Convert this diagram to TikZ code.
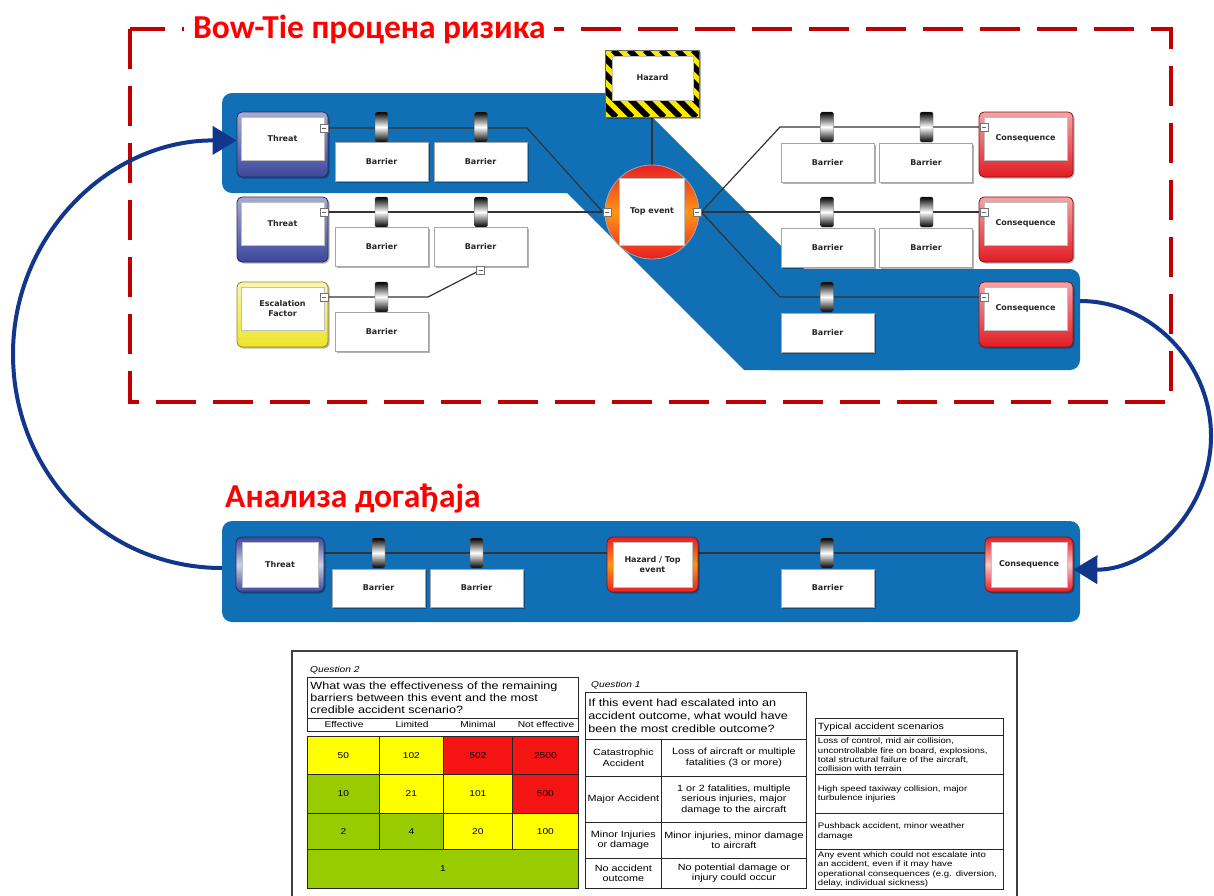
\documentclass[tikz,border=0pt]{standalone}
\usepackage{fontspec}
\setmainfont{Liberation Sans}
\newfontfamily\nodefont{DejaVu Sans}
\newfontfamily\ttlfont{Carlito}
\newfontfamily\tabfont{Liberation Sans}[FakeStretch=1.2]
\usetikzlibrary{arrows.meta,shadows}
\pgfdeclarelayer{bg}
\pgfdeclarelayer{lines}
\pgfsetlayers{bg,lines,main}
\definecolor{bandblue}{RGB}{17,112,181}
\definecolor{arrowblue}{RGB}{17,54,140}
\definecolor{dashred}{RGB}{192,0,0}
\definecolor{titlered}{RGB}{255,0,0}
\definecolor{thrblue}{RGB}{60,70,155}
\definecolor{consred}{RGB}{226,28,36}
\definecolor{escyellow}{RGB}{238,228,40}
\definecolor{hazyellow}{RGB}{250,232,0}
\definecolor{teorange}{RGB}{255,150,20}
\definecolor{tered}{RGB}{232,30,35}
\definecolor{cellyellow}{RGB}{255,255,0}
\definecolor{cellred}{RGB}{245,20,20}
\definecolor{cellgreen}{RGB}{153,204,0}
\tikzset{
  lbl/.style={font=\nodefont\bfseries\fontsize{8}{9.5}\selectfont, text=black!85, align=center},
  shad/.style={drop shadow={shadow xshift=1.5pt, shadow yshift=-1.5pt, fill=black, opacity=0.3}},
  barrierbox/.style={shad, draw=black!35, fill=white, line width=0.8pt, minimum width=93pt, minimum height=39pt, inner sep=0pt, lbl},
  pinbar/.style={draw=black!70, line width=0.4pt, minimum width=13pt, minimum height=30pt, inner sep=0pt, rounded corners=1.5pt, top color=black, bottom color=black, middle color=white},
  conn/.style={draw=black!80, line width=1.2pt},
  collapse/.style={draw=black!55, fill=white, line width=0.5pt, minimum size=8pt, inner sep=0pt, path picture={\draw[black!60, line width=0.6pt] ([xshift=-2pt]path picture bounding box.center) -- ([xshift=2pt]path picture bounding box.center);}},
  outerbox/.style={shad, line width=0.8pt, rounded corners=5pt, minimum width=91pt, minimum height=65pt, inner sep=0pt},
  threatouter/.style={outerbox, draw=thrblue!60!black, top color=thrblue!45, bottom color=thrblue},
  consouter/.style={outerbox, minimum width=94pt, draw=consred!60!black, top color=consred!40, bottom color=consred},
  escouter/.style={outerbox, draw=escyellow!60!black, top color=escyellow!35, bottom color=escyellow},
  innerbox/.style={fill=white, draw=black!25, line width=0.4pt, minimum width=83pt, minimum height=43pt, inner sep=0pt, lbl},
  ringbox/.style={shad, line width=0.8pt, rounded corners=6pt, minimum height=55pt, inner sep=0pt},
  arrowline/.style={draw=arrowblue, line width=4pt, -{Triangle[length=24pt,width=28pt]}},
  titlestyle/.style={text=titlered, inner sep=0pt, font=\ttlfont\bfseries\fontsize{33.5}{38}\selectfont},
  tcell/.style={draw=black!85, line width=0.8pt, anchor=north west, inner sep=0pt, align=center, font=\tabfont\fontsize{8.5}{10}\selectfont},
  qcell/.style={tcell, font=\tabfont\fontsize{9}{10.5}\selectfont},
  scell/.style={tcell, align=left, text width=183pt, inner xsep=2.5pt, font=\tabfont\fontsize{8}{9.3}\selectfont},
  hdr/.style={inner sep=0pt, font=\tabfont\fontsize{8.5}{10}\selectfont},
  qlab/.style={anchor=west, inner sep=0pt, font=\tabfont\itshape\fontsize{8.5}{10}\selectfont},
}
\begin{document}
\begin{tikzpicture}[x=1pt,y=-1pt]
\useasboundingbox (0,0) rectangle (1214,895);
\begin{pgfonlayer}{bg}
\fill[white] (0,0) rectangle (1214,895);
\fill[bandblue, rounded corners=10pt] (222,93) rectangle (620,193);
\fill[bandblue, rounded corners=10pt] (760,269) rectangle (1080,370);
\fill[bandblue] (467,93) -- (628,93) -- (905,370) -- (744,370) -- cycle;
\fill[bandblue, rounded corners=10pt] (222,521) rectangle (1080,622);
\draw[dashred, line width=4pt, dash pattern=on 40pt off 17pt] (130,29) rectangle (1171,402);
\end{pgfonlayer}

% titles
\node[titlestyle, anchor=base west, fill=white, inner xsep=9pt, inner ysep=3pt] (title1) at (184,38) {Bow-Tie процена ризика};
\node[titlestyle, anchor=base west] (title2) at (225,507) {Анализа догађаја};

% ---- left side (threats) ----
\node[threatouter] (t1o) at (282.5,144.5) {};
\node[innerbox] (t1) at (282.5,138.5) {Threat};
\node[collapse] (t1c) at (324,128) {};
\node[threatouter] (t2o) at (282.5,229.5) {};
\node[innerbox] (t2) at (282.5,223.5) {Threat};
\node[collapse] (t2c) at (324,212) {};
\node[escouter] (eo) at (282.5,314.5) {};
\node[innerbox] (e) at (282.5,308.5) {Escalation\\Factor};
\node[collapse] (ec) at (324,297) {};

\node[pinbar] (p11) at (381.5,127) {};
\node[barrierbox] (b11) at (381.5,161.5) {Barrier};
\node[pinbar] (p12) at (481,127) {};
\node[barrierbox] (b12) at (480.5,161.5) {Barrier};
\node[pinbar] (p21) at (381.5,212) {};
\node[barrierbox] (b21) at (381.5,246.5) {Barrier};
\node[pinbar] (p22) at (481,212) {};
\node[barrierbox] (b22) at (480.5,246.5) {Barrier};
\node[collapse] (b22c) at (480.5,270) {};
\node[pinbar] (p31) at (381.5,297) {};
\node[barrierbox] (b31) at (381.5,332) {Barrier};

% ---- hazard ----
\node[draw=black!60, fill=hazyellow, minimum width=94pt, minimum height=67pt, inner sep=0pt, shad] (hzo) at (652,83.5) {};
\begin{scope}
\clip (605,50) rectangle (699,117);
\foreach \s in {-72,-56,...,104} \draw[black, line width=5.7pt] (605+\s,50) -- ++(67,67);
\end{scope}
\draw[black!60, line width=0.6pt] (hzo.south west) rectangle (hzo.north east);
\node[innerbox, minimum width=81pt, minimum height=44pt] (hz) at (652.5,78) {Hazard};

% ---- top event ----
\node[circle, draw=black!35, line width=0.8pt, minimum size=94pt, inner sep=0pt, top color=tered, bottom color=tered, middle color=teorange] (te) at (652,212) {};
\node[innerbox, minimum width=65pt, minimum height=67pt] (tei) at (652,211.5) {Top event};
\node[collapse] (tel) at (607,212) {};
\node[collapse] (ter) at (697,212) {};

% ---- right side (consequences) ----
\node[pinbar] (q11) at (827,127) {};
\node[barrierbox] (r11) at (827.5,162.5) {Barrier};
\node[pinbar] (q12) at (926.5,127) {};
\node[barrierbox] (r12) at (926,162.5) {Barrier};
\node[pinbar] (q21) at (827,212) {};
\node[barrierbox] (r21) at (827.5,247.5) {Barrier};
\node[pinbar] (q22) at (926.5,212) {};
\node[barrierbox] (r22) at (926,247.5) {Barrier};
\node[pinbar] (q31) at (827,297) {};
\node[barrierbox] (r31) at (827.5,332.5) {Barrier};

\node[consouter] (c1o) at (1026,144.5) {};
\node[innerbox] (c1) at (1025.5,138.5) {Consequence};
\node[collapse] (c1c) at (984,127) {};
\node[consouter] (c2o) at (1026,229.5) {};
\node[innerbox] (c2) at (1025.5,223.5) {Consequence};
\node[collapse] (c2c) at (984,212) {};
\node[consouter] (c3o) at (1026,314.5) {};
\node[innerbox] (c3) at (1025.5,308.5) {Consequence};
\node[collapse] (c3c) at (984,297) {};

% ---- bottom band ----
\node[ringbox, minimum width=88pt, draw=thrblue!60!black, top color=thrblue, bottom color=thrblue, middle color=thrblue!25] (bto) at (280,564.5) {};
\node[innerbox, minimum width=76pt, minimum height=45pt] (bt) at (280,564.5) {Threat};
\node[pinbar] (bp1) at (378.5,553) {};
\node[barrierbox, minimum height=38pt] (bb1) at (378.5,588) {Barrier};
\node[pinbar] (bp2) at (476.5,553) {};
\node[barrierbox, minimum height=38pt] (bb2) at (476.5,588) {Barrier};
\node[ringbox, minimum width=91pt, draw=tered!60!black, top color=tered, bottom color=tered, middle color=teorange] (bho) at (652.5,564.5) {};
\node[innerbox, minimum width=79pt, minimum height=45pt] (bh) at (652.5,564.5) {Hazard / Top\\event};
\node[pinbar] (bp3) at (827,553) {};
\node[barrierbox, minimum height=38pt] (bb3) at (827.5,588) {Barrier};
\node[ringbox, minimum width=88pt, draw=consred!60!black, top color=consred, bottom color=consred, middle color=consred!25] (bco) at (1029,564.5) {};
\node[innerbox, minimum width=76pt, minimum height=45pt] (bc) at (1029,564.5) {Consequence};

% ---- connectors ----
\coordinate (k1) at (527,128);
\coordinate (k2) at (428,297);
\coordinate (k3) at (780,127);
\coordinate (k4) at (780,297);
\begin{pgfonlayer}{lines}
\draw[conn] (t1c.east) -- (k1) -- (tel.west);
\draw[conn] (t2c.east) -- (tel.west);
\draw[conn] (ec.east) -- (k2) -- (b22c);
\draw[conn] (hzo.south) -- (te.north);
\draw[conn] (ter.east) -- (k3) -- (c1c.west);
\draw[conn] (ter.east) -- (c2c.west);
\draw[conn] (ter.east) -- (k4) -- (c3c.west);
\draw[conn] ([yshift=11.5pt]bto.east) -- ([yshift=11.5pt]bho.west);
\draw[conn] ([yshift=11.5pt]bho.east) -- ([yshift=11.5pt]bco.west);
\end{pgfonlayer}

% ---- cycle arrows ----
\coordinate (bandL) at (222,568);
\coordinate (bandR) at (1080,301);
\draw[arrowline] (bandL) .. controls (105,568) and (13,473) .. (13,354) .. controls (13,235) and (109,140) .. ([yshift=4pt]t1o.west);
\draw[arrowline] (bandR) .. controls (1151,301) and (1211,363) .. (1211,436) .. controls (1211,509) and (1151,570) .. ([yshift=-5pt]bco.east);

% ---- tables ----
\draw[black!75, line width=1.2pt] (292,900) -- (292,651) -- (1017,651) -- (1017,900);

\node[qlab] (q2l) at (310,670) {Question 2};
\node[tcell, align=left, text width=265pt, inner xsep=3pt, minimum height=41pt, font=\tabfont\fontsize{10.5}{12}\selectfont] (q2b) at (307,677) {What was the effectiveness of the remaining\\barriers between this event and the most\\credible accident scenario?};
\node[tcell, minimum width=271pt, minimum height=13pt] (q2h) at (307,718) {};
\node[hdr] (h1) at (344,724.5) {Effective};
\node[hdr] (h2) at (412,724.5) {Limited};
\node[hdr] (h3) at (478,724.5) {Minimal};
\node[hdr] (h4) at (546,724.5) {Not effective};

\node[tcell, fill=cellyellow, minimum width=72pt, minimum height=38pt] (g11) at (307,736) {50};
\node[tcell, fill=cellyellow, minimum width=64pt, minimum height=38pt] (g12) at (379,736) {102};
\node[tcell, fill=cellred, minimum width=69pt, minimum height=38pt] (g13) at (443,736) {502};
\node[tcell, fill=cellred, minimum width=66pt, minimum height=38pt] (g14) at (512,736) {2500};
\node[tcell, fill=cellgreen, minimum width=72pt, minimum height=39pt] (g21) at (307,774) {10};
\node[tcell, fill=cellyellow, minimum width=64pt, minimum height=39pt] (g22) at (379,774) {21};
\node[tcell, fill=cellyellow, minimum width=69pt, minimum height=39pt] (g23) at (443,774) {101};
\node[tcell, fill=cellred, minimum width=66pt, minimum height=39pt] (g24) at (512,774) {500};
\node[tcell, fill=cellgreen, minimum width=72pt, minimum height=36pt] (g31) at (307,813) {2};
\node[tcell, fill=cellgreen, minimum width=64pt, minimum height=36pt] (g32) at (379,813) {4};
\node[tcell, fill=cellyellow, minimum width=69pt, minimum height=36pt] (g33) at (443,813) {20};
\node[tcell, fill=cellyellow, minimum width=66pt, minimum height=36pt] (g34) at (512,813) {100};
\node[tcell, fill=cellgreen, minimum width=271pt, minimum height=39pt] (g41) at (307,849) {1};

\node[qlab] (q1l) at (591,685) {Question 1};
\node[tcell, align=left, text width=215pt, inner xsep=3pt, minimum height=47pt, font=\tabfont\fontsize{10.5}{12.8}\selectfont] (q1b) at (585,692) {If this event had escalated into an\\accident outcome, what would have\\been the most credible outcome?};
\node[qcell, minimum width=76pt, minimum height=37pt] (o11) at (585,739) {Catastrophic\\Accident};
\node[qcell, minimum width=145pt, minimum height=37pt] (o12) at (661,739) {Loss of aircraft or multiple\\fatalities (3 or more)};
\node[qcell, minimum width=76pt, minimum height=46pt] (o21) at (585,776) {Major Accident};
\node[qcell, minimum width=145pt, minimum height=46pt] (o22) at (661,776) {1 or 2 fatalities, multiple\\serious injuries, major\\damage to the aircraft};
\node[qcell, minimum width=76pt, minimum height=36pt] (o31) at (585,822) {Minor Injuries\\or damage};
\node[qcell, minimum width=145pt, minimum height=36pt] (o32) at (661,822) {Minor injuries, minor damage\\to aircraft};
\node[qcell, minimum width=76pt, minimum height=30pt] (o41) at (585,858) {No accident\\outcome};
\node[qcell, minimum width=145pt, minimum height=30pt] (o42) at (661,858) {No potential damage or\\injury could occur};

\node[scell, minimum height=17pt, font=\tabfont\fontsize{9}{10}\selectfont] (s0) at (815,718) {Typical accident scenarios};
\node[scell, minimum height=39pt] (s1) at (815,735) {Loss of control, mid air collision,\\uncontrollable fire on board, explosions,\\total structural failure of the aircraft,\\collision with terrain};
\node[scell, minimum height=39pt] (s2) at (815,774) {High speed taxiway collision, major\\turbulence injuries};
\node[scell, minimum height=36pt] (s3) at (815,813) {Pushback accident, minor weather\\damage};
\node[scell, minimum height=40pt] (s4) at (815,849) {\hyphenpenalty=10000 Any event which could not escalate into\\an accident, even if it may have\\operational consequences (e.g. diversion,\\delay, individual sickness)};
\end{tikzpicture}
\end{document}
